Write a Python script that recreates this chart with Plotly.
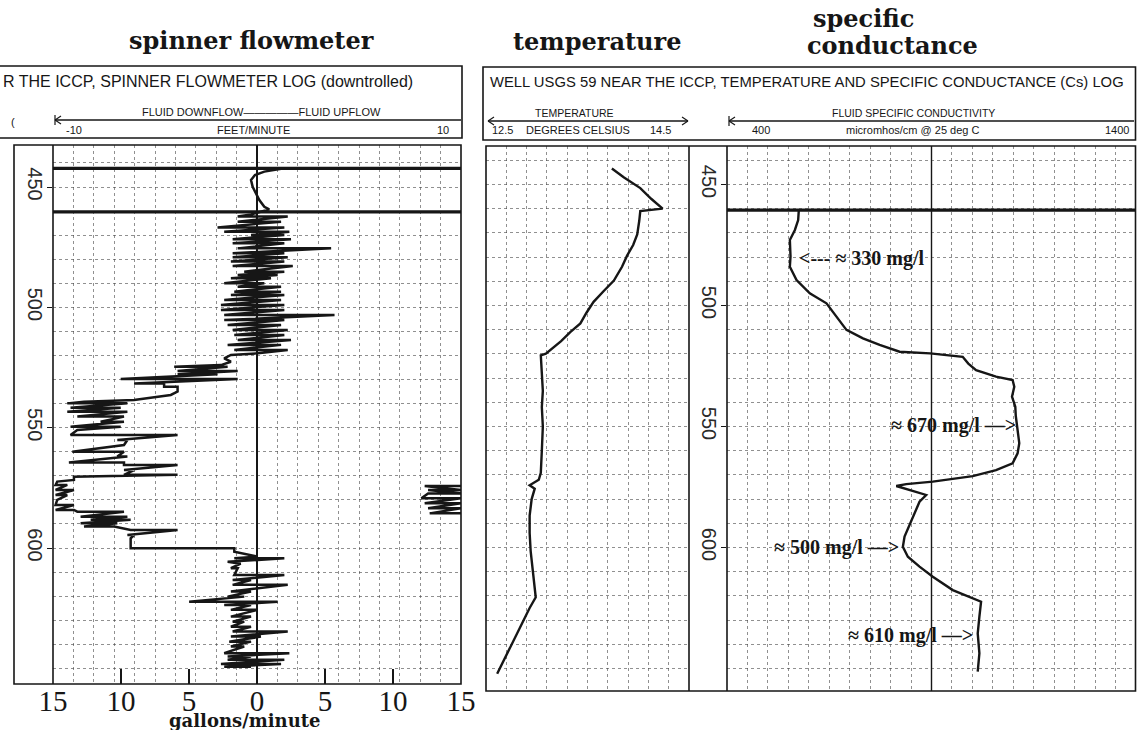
import plotly.graph_objects as go

W, H = 1137, 730


def px(x):
    return x / W


def py(y):
    return 1 - y / H


# ---------------- DATA ----------------
# Spinner flowmeter (gallons/minute; negative = downflow) vs depth (ft)
flow_depth = [
    442.2, 443.6, 445.0, 447.1, 449.9, 452.6, 455.4, 458.2, 459.3,
    461.4,
    462.3, 462.3, 464.4, 464.4, 466.8, 466.8, 468.6, 468.6, 469.9, 469.9,
    471.7, 471.7, 473.4, 473.4, 475.5, 475.5, 477.5, 477.5, 479.2, 479.2,
    481.0, 481.0, 482.8, 482.8, 485.2, 485.2, 486.6, 486.6, 487.9, 487.9,
    490.0, 490.0, 491.4, 491.4, 493.5, 493.5, 494.9, 494.9, 496.9, 496.9,
    499.0, 499.0, 501.1, 501.1, 503.2, 503.2, 505.3, 505.3, 507.3, 507.3,
    509.4, 509.4, 511.5, 511.5, 513.6, 513.6, 515.6, 515.6, 517.7, 517.7,
    519.1, 519.8, 521.2, 522.6, 524.0,
    524.7, 524.7, 526.4, 526.4, 527.8, 527.8, 529.8, 529.8, 531.6, 531.6,
    533.0, 533.0, 535.0, 536.4, 538.5, 539.2,
    539.9, 539.9, 541.7, 541.7, 543.4, 543.4, 545.4, 545.4, 547.5, 547.5,
    549.6, 549.6, 551.0, 553.0, 553.0, 555.1, 555.1, 557.2,
    560.0, 560.0, 562.0, 562.0, 564.5, 564.5, 565.5, 565.5, 567.6, 567.6,
    569.6, 569.6, 570.4, 571.7, 572.4,
    573.8, 573.8, 575.9, 575.9, 578.0, 578.0, 580.0, 582.1, 582.1, 584.2, 584.2,
    584.9, 584.9, 587.0, 587.0, 588.3, 588.3, 589.7, 589.7, 591.1, 591.1,
    592.5, 592.5, 594.6, 594.6, 596.0, 600.1, 600.1, 601.5, 603.6,
    604.3, 604.3, 605.7, 606.5, 608.4, 608.4, 611.2, 611.2, 613.3, 613.3,
    615.3, 615.3, 618.1, 618.1, 620.2, 620.2, 622.3, 622.3, 623.7, 623.7,
    625.7, 625.7, 628.5, 628.5, 630.6, 630.6, 632.7, 632.7, 634.7, 634.7,
    636.8, 636.8, 638.9, 638.9, 640.9, 640.9, 643.7, 643.7, 645.1, 645.1,
    646.4, 646.4, 648.2, 648.2, 649.3, 649.3,
]
flow_gpm = [
    2.0, 0.54, -0.15, -0.44, -0.32, -0.07, 0.17, 0.54, 0.9,
    -0.44,
    -1.42, 2.26, -1.42, 1.77, -2.9, 2.01, -2.41, 2.38, -0.44, 2.01,
    -1.79, 2.5, -1.79, 2.01, -1.42, 5.45, -1.79, 2.01, -1.79, 2.26,
    -1.92, 2.01, -1.79, 2.63, -0.94, 2.01, -1.42, 1.52, -1.92, 1.03,
    -2.41, 0.54, -1.42, 1.77, -1.67, 1.77, -1.92, 2.01, -2.41, 1.77,
    -2.65, 2.01, -2.65, 2.01, -2.41, 5.7, -2.41, 2.01, -2.16, 1.77,
    -1.79, 2.26, -1.67, 2.01, -1.42, 2.5, -2.16, 1.77, -1.67, 2.26,
    0.05, -1.92, -2.41, -1.92, -2.65,
    -6.09, -2.16, -5.84, -1.42, -5.84, -2.9, -10.02, -1.42, -9.04, -6.83,
    -6.83, -5.84, -5.84, -6.34, -9.04, -12.72,
    -13.95, -9.53, -13.71, -10.02, -13.95, -9.53, -13.21, -9.78, -11.5, -9.78,
    -13.71, -10.02, -13.21, -13.71, -5.84, -10.27, -9.53, -9.78,
    -13.58, -9.78, -10.27, -9.53, -13.83, -9.78, -9.78, -5.84, -9.78, -9.04,
    -9.78, -5.84, -13.46, -13.46, -14.69,
    -14.81, -13.95, -14.81, -13.46, -14.81, -13.95, -14.69, -14.81, -13.46, -14.81, -13.46,
    -13.21, -9.78, -12.97, -9.53, -12.23, -9.29, -12.97, -10.27, -12.72, -10.5,
    -9.29, -5.84, -9.53, -9.04, -9.29, -9.29, -1.67, -1.67, 0.05,
    -1.67, 2.01, -2.16, -1.2, -1.92, -1.42, -1.67, 2.01, -1.79, -0.44,
    -1.79, 2.26, -1.92, -0.44, -2.16, -0.94, -4.99, 1.52, -2.41, -0.44,
    -1.92, 0.05, -1.92, -0.44, -1.79, -0.94, -1.92, -0.44, -1.79, 2.26,
    -1.92, 0.29, -2.04, -0.44, -1.92, -0.94, -2.41, 2.38, -2.16, -0.44,
    -2.16, 2.01, -2.65, 1.77, -2.41, -0.44,
]
# pen wrap-around segment (off-scale downflow re-plotted at right edge)
wrap_depth = [574.2, 574.2, 575.9, 575.9, 577.3, 577.3, 579.3, 579.3,
              581.4, 581.4, 583.5, 583.5, 585.6, 585.6]
wrap_gpm = [15, 12.33, 15, 12.58, 15, 12.58, 12.09, 15,
            12.33, 15, 12.58, 15, 12.7, 15]
# full-scale excursions (packer / casing marks)
flow_bar_depths = [442.3, 460.3]
cond_bar_depths = [460.6]

# Temperature (deg C) vs depth
temp_depth = [443.4, 447.1, 451.5, 456.0, 460.0, 461.0, 465.0, 470.6, 475.0, 479.4,
              484.0, 489.7, 494.0, 498.5, 503.0, 507.4, 511.0, 514.7, 519.9, 520.6,
              528.0, 535.3, 542.0, 550.0, 560.0, 569.1, 572.0, 574.3, 575.7, 580.0,
              586.8, 594.0, 601.5, 610.0, 620.6, 625.0, 630.9, 635.0, 639.7, 645.0,
              652.2]
temp_c = [13.74, 13.86, 14.02, 14.13, 14.24, 14.02, 14.01, 13.99, 13.95, 13.89,
          13.84, 13.76, 13.66, 13.56, 13.49, 13.43, 13.33, 13.24, 13.09, 13.04,
          13.05, 13.06, 13.05, 13.06, 13.05, 13.04, 13.02, 12.93, 12.98, 12.95,
          12.93, 12.93, 12.94, 12.96, 12.99, 12.93, 12.86, 12.81, 12.75, 12.69,
          12.61]

# Specific conductance (micromhos/cm @ 25 C) vs depth
cond_depth = [460.5, 464.7, 468.8, 472.9, 479.8, 484.0, 489.5, 495.0, 499.1, 505.0,
              510.1, 513.6, 516.3, 519.1, 519.8, 521.2, 524.0, 526.7, 529.4, 530.8,
              533.6, 537.7, 541.8, 545.5, 549.4, 553.0, 556.9, 561.1, 565.2, 568.0,
              570.5, 572.8, 573.8, 574.6, 576.2, 578.3, 581.1, 585.9, 591.4, 595.5,
              599.7, 603.8, 607.9, 612.1, 617.6, 621.0, 622.4, 628.6, 635.5, 643.7,
              651.3]
cond_us = [575.6, 574, 566, 553.7, 555.3, 553.7, 570, 602.4, 643.2, 670,
           692, 732.4, 773.2, 822, 896.8, 976.3, 990, 1009, 1057.8, 1098.3,
           1102.4, 1096.8, 1104.9, 1106, 1109, 1112, 1114.6, 1110.5, 1098.3, 1057.8,
           1000.8, 903.2, 838.3, 813.9, 846.3, 887, 870.7, 858.5, 846.3, 834.1,
           830, 842.2, 870.7, 903.2, 952, 1000.8, 1021.2, 1017.1, 1013, 1017.1,
           1013]

depth_ticks = [450, 500, 550, 600]
gpm_ticks = [-15, -10, -5, 0, 5, 10, 15]
gpm_ticktext = ["15", "10", "5", "0", "5", "10", "15"]
cond_center = 900

mgl_labels = ["<--- \u2248 330 mg/l", "\u2248 670 mg/l \u2014>",
              "\u2248 500 mg/l \u2014>", "\u2248 610 mg/l \u2014>"]

# ---------------- STYLE ----------------
INK = "#161616"
GRID = "rgba(70,70,70,0.6)"
SERIF = "DejaVu Serif"
TSERIF = "Liberation Serif"
SANS = "Liberation Sans"

fig = go.Figure()


def bars(depths, lo, hi):
    xs, ys = [], []
    for d in depths:
        xs += [lo, hi, None]
        ys += [d, d, None]
    return xs, ys


bx, by = bars(flow_bar_depths, -15, 15)
fig.add_trace(go.Scatter(x=bx, y=by, mode="lines", line=dict(color=INK, width=3.2),
                         xaxis="x", yaxis="y", hoverinfo="skip"))
fig.add_trace(go.Scatter(x=flow_gpm, y=flow_depth, mode="lines",
                         line=dict(color=INK, width=2.5), xaxis="x", yaxis="y"))
fig.add_trace(go.Scatter(x=wrap_gpm, y=wrap_depth, mode="lines",
                         line=dict(color=INK, width=2.5), xaxis="x", yaxis="y"))

fig.add_trace(go.Scatter(x=temp_c, y=temp_depth, mode="lines",
                         line=dict(color=INK, width=2.4), xaxis="x2", yaxis="y2"))

cx, cy = bars(cond_bar_depths, 400, 1400)
fig.add_trace(go.Scatter(x=cx, y=cy, mode="lines", line=dict(color=INK, width=3.2),
                         xaxis="x3", yaxis="y3", hoverinfo="skip"))
fig.add_trace(go.Scatter(x=cond_us, y=cond_depth, mode="lines",
                         line=dict(color=INK, width=2.4), xaxis="x3", yaxis="y3"))

grid_common = dict(gridcolor=GRID, griddash="dot", gridwidth=1)

depth_tick_common = dict(
    tickmode="array", tickvals=depth_ticks, tickangle=90,
    tickfont=dict(family=SANS, size=20, color="#2a2a2a"),
    ticks="outside", ticklen=5, tickcolor=INK, showgrid=False, zeroline=False,
    ticklabelstandoff=-5, automargin=False,
)

left_range = [656.5, 432.55]
right_range = [659.3, 434.1]

fig.update_layout(
    template="none",
    width=W, height=H, margin=dict(l=0, r=0, t=0, b=0, pad=0, autoexpand=False),
    autosize=False,
    paper_bgcolor="white", plot_bgcolor="white", showlegend=False,
    xaxis=dict(domain=[px(53), px(461)], range=[-15, 15], anchor="y",
               tickmode="array", tickvals=gpm_ticks, ticktext=gpm_ticktext,
               tickfont=dict(family=TSERIF, size=29, color=INK),
               ticks="inside", ticklen=15, tickwidth=2, tickcolor=INK,
               showgrid=False, showline=False, automargin=False,
               ticklabelstandoff=-3,
               zeroline=True, zerolinecolor=INK, zerolinewidth=1.6,
               minor=dict(dtick=1.5, tick0=0, showgrid=True, ticks="", **grid_common)),
    yaxis=dict(domain=[py(684), py(145)], range=left_range, anchor="x",
               minor=dict(dtick=10, tick0=0, showgrid=True, ticks="", **grid_common),
               **depth_tick_common),
    xaxis2=dict(domain=[px(486), px(689)], range=[12.5, 14.5], anchor="y2",
                showticklabels=False, ticks="", dtick=0.2, tick0=12.5, showgrid=True,
                zeroline=False, automargin=False, showline=False, **grid_common),
    yaxis2=dict(domain=[py(691), py(146)], range=right_range, anchor="x2",
                showticklabels=False, ticks="", dtick=10, tick0=0, showgrid=True,
                zeroline=False, automargin=False, showline=False, **grid_common),
    xaxis3=dict(domain=[px(727), px(1136)], range=[400, 1400], anchor="y3",
                showticklabels=False, ticks="", dtick=50, tick0=400, showgrid=True,
                zeroline=False, automargin=False, showline=False, **grid_common),
    yaxis3=dict(domain=[py(691), py(146)], range=right_range, anchor="x3",
                minor=dict(dtick=10, tick0=0, showgrid=True, ticks="", **grid_common),
                **depth_tick_common),
)

LW = 1.6
shapes = []


def rect(x0, y0, x1, y1, w=LW):
    shapes.append(dict(type="rect", xref="paper", yref="paper",
                       x0=px(x0), x1=px(x1), y0=py(y1), y1=py(y0),
                       line=dict(color=INK, width=w), fillcolor="rgba(0,0,0,0)", layer="above"))


def hline(x0, x1, y, w=LW):
    shapes.append(dict(type="line", xref="paper", yref="paper",
                       x0=px(x0), x1=px(x1), y0=py(y), y1=py(y),
                       line=dict(color=INK, width=w), layer="above"))


def vline(x, y0, y1, w=LW):
    shapes.append(dict(type="line", xref="paper", yref="paper",
                       x0=px(x), x1=px(x), y0=py(y0), y1=py(y1),
                       line=dict(color=INK, width=w), layer="above"))


def seg(x0, y0, x1, y1, w=1.2):
    shapes.append(dict(type="line", xref="paper", yref="paper",
                       x0=px(x0), x1=px(x1), y0=py(y0), y1=py(y1),
                       line=dict(color=INK, width=w), layer="above"))


# header boxes
rect(-3, 66, 462, 138)
rect(483, 67, 1135.5, 140)
# plot frames
rect(14, 145, 461, 684)
vline(53, 145, 684)
rect(486, 146, 1135.5, 691)
vline(689, 146, 691)
vline(727, 146, 691)
# header scale bars (with arrow heads)
hline(55, 461, 120, 1.4)
seg(55, 120, 61, 116)
seg(55, 120, 61, 124)
vline(55, 115, 125, 1.2)
hline(488, 688, 121, 1.4)
seg(488, 121, 494, 117)
seg(488, 121, 494, 125)
seg(688, 121, 682, 117)
seg(688, 121, 682, 125)
hline(729, 1134, 121, 1.4)
seg(729, 121, 735, 117)
seg(729, 121, 735, 125)
vline(729, 116, 126, 1.2)
# conductance mid line
shapes.append(dict(type="line", xref="x3", yref="y3 domain", x0=cond_center, x1=cond_center,
                   y0=0, y1=1, line=dict(color=INK, width=1.4), layer="above"))
fig.update_layout(shapes=shapes)

ann = []


def text(t, x, y, size, family=SANS, anchor="center", bold=False, color=INK):
    ann.append(dict(text=("<b>%s</b>" % t) if bold else t, x=px(x), y=py(y),
                    xref="paper", yref="paper", xanchor=anchor, yanchor="middle",
                    showarrow=False, font=dict(family=family, size=size, color=color)))


# titles
text("spinner flowmeter", 251, 40, 24, SERIF, bold=True)
text("temperature", 597, 42, 24, SERIF, bold=True)
text("specific", 863, 18, 24, SERIF, bold=True)
text("conductance", 892, 45, 24, SERIF, bold=True)
# headers
text("R THE ICCP, SPINNER FLOWMETER LOG (downtrolled)", 1, 81, 16, anchor="left")
text("WELL USGS 59 NEAR THE ICCP, TEMPERATURE AND SPECIFIC CONDUCTANCE (Cs) LOG",
     488, 82, 14.8, anchor="left")
text("(", 13, 122, 11)
text("FLUID DOWNFLOW\u2014\u2014\u2014\u2014\u2014FLUID UPFLOW", 261, 112, 11)
text("-10", 64, 130, 11, anchor="left")
text("FEET/MINUTE", 253, 130, 11)
text("10", 451, 130, 11, anchor="right")
text("TEMPERATURE", 574, 113, 10.5)
text("12.5", 490, 130, 11, anchor="left")
text("DEGREES CELSIUS", 578, 130, 11)
text("14.5", 660, 130, 11)
text("FLUID SPECIFIC CONDUCTIVITY", 913, 113, 10.5)
text("400", 750, 130, 11, anchor="left")
text("micromhos/cm @ 25 deg C", 912, 130, 11)
text("1400", 1131, 130, 11, anchor="right")
# bottom axis title
text("gallons/minute", 245, 720, 18, SERIF, bold=True)

# concentration notes placed on the conductance axis
mgl_pos = [(571, 480.4, "left"), (1112, 549.6, "right"),
           (826, 600.0, "right"), (1006, 636.2, "right")]
for lab, (xv, yv, anc) in zip(mgl_labels, mgl_pos):
    ann.append(dict(text="<b>%s</b>" % lab, x=xv, y=yv, xref="x3", yref="y3",
                    xanchor=anc, yanchor="middle", showarrow=False,
                    font=dict(family=TSERIF, size=20, color=INK)))

fig.update_layout(annotations=ann)

fig.write_html(
    "out.html",
    config={"responsive": False, "displayModeBar": False},
    post_script="document.body.style.margin='0';document.body.style.padding='0';"
                "document.body.style.overflow='hidden';",
)
